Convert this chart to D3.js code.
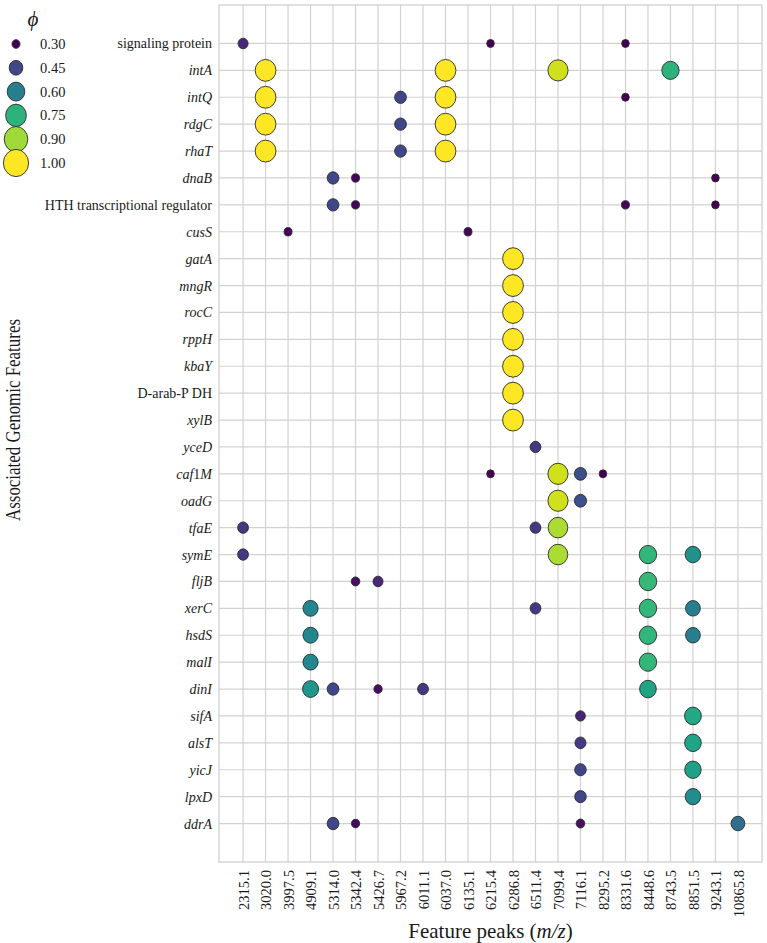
<!DOCTYPE html>
<html>
<head>
<meta charset="utf-8">
<script src="https://cdn.jsdelivr.net/npm/d3@7"></script>
<style>
  body { margin: 0; background: #fff; }
  svg text { font-family: "Liberation Serif", "Times New Roman", serif; fill: #1a1a1a; }
</style>
</head>
<body>
<div id="chart"></div>
<script>
const peaks = ['2315.1', '3020.0', '3997.5', '4909.1', '5314.0', '5342.4', '5426.7', '5967.2',
  '6011.1', '6037.0', '6135.1', '6215.4', '6286.8', '6511.4', '7099.4', '7116.1', '8295.2',
  '8331.6', '8448.6', '8743.5', '8851.5', '9243.1', '10865.8'];

const features = ['signaling protein', 'intA', 'intQ', 'rdgC', 'rhaT', 'dnaB',
  'HTH transcriptional regulator', 'cusS', 'gatA', 'mngR', 'rocC', 'rppH', 'kbaY',
  'D-arab-P DH', 'xylB', 'yceD', 'caf1M', 'oadG', 'tfaE', 'symE', 'fljB', 'xerC', 'hsdS',
  'malI', 'dinI', 'sifA', 'alsT', 'yicJ', 'lpxD', 'ddrA'];

// names that are not gene symbols (drawn upright)
const plainFeatures = ['signaling protein', 'HTH transcriptional regulator', 'D-arab-P DH'];

const legendPhi = [0.30, 0.45, 0.60, 0.75, 0.90, 1.00];

// [feature, peak, phi]
const points = [
  ['signaling protein', '2315.1', 0.38], ['signaling protein', '6215.4', 0.30], ['signaling protein', '8331.6', 0.30],
  ['intA', '3020.0', 1.00], ['intA', '6037.0', 1.00], ['intA', '7099.4', 0.95], ['intA', '8743.5', 0.75],
  ['intQ', '3020.0', 1.00], ['intQ', '5967.2', 0.45], ['intQ', '6037.0', 1.00], ['intQ', '8331.6', 0.30],
  ['rdgC', '3020.0', 1.00], ['rdgC', '5967.2', 0.45], ['rdgC', '6037.0', 1.00],
  ['rhaT', '3020.0', 1.00], ['rhaT', '5967.2', 0.45], ['rhaT', '6037.0', 1.00],
  ['dnaB', '5314.0', 0.45], ['dnaB', '5342.4', 0.31], ['dnaB', '9243.1', 0.30],
  ['HTH transcriptional regulator', '5314.0', 0.45], ['HTH transcriptional regulator', '5342.4', 0.31],
  ['HTH transcriptional regulator', '8331.6', 0.31], ['HTH transcriptional regulator', '9243.1', 0.30],
  ['cusS', '3997.5', 0.31], ['cusS', '6135.1', 0.31],
  ['gatA', '6286.8', 1.00], ['mngR', '6286.8', 1.00], ['rocC', '6286.8', 1.00], ['rppH', '6286.8', 1.00],
  ['kbaY', '6286.8', 1.00], ['D-arab-P DH', '6286.8', 1.00], ['xylB', '6286.8', 1.00],
  ['yceD', '6511.4', 0.41],
  ['caf1M', '6215.4', 0.30], ['caf1M', '7099.4', 0.95], ['caf1M', '7116.1', 0.47], ['caf1M', '8295.2', 0.30],
  ['oadG', '7099.4', 0.95], ['oadG', '7116.1', 0.47],
  ['tfaE', '2315.1', 0.41], ['tfaE', '6511.4', 0.41], ['tfaE', '7099.4', 0.91],
  ['symE', '2315.1', 0.41], ['symE', '7099.4', 0.91], ['symE', '8448.6', 0.76], ['symE', '8851.5', 0.65],
  ['fljB', '5342.4', 0.33], ['fljB', '5426.7', 0.38], ['fljB', '8448.6', 0.77],
  ['xerC', '4909.1', 0.62], ['xerC', '6511.4', 0.41], ['xerC', '8448.6', 0.76], ['xerC', '8851.5', 0.60],
  ['hsdS', '4909.1', 0.62], ['hsdS', '8448.6', 0.76], ['hsdS', '8851.5', 0.60],
  ['malI', '4909.1', 0.62], ['malI', '8448.6', 0.76],
  ['dinI', '4909.1', 0.67], ['dinI', '5314.0', 0.45], ['dinI', '5426.7', 0.32], ['dinI', '6011.1', 0.41], ['dinI', '8448.6', 0.71],
  ['sifA', '7116.1', 0.37], ['sifA', '8851.5', 0.72],
  ['alsT', '7116.1', 0.42], ['alsT', '8851.5', 0.71],
  ['yicJ', '7116.1', 0.44], ['yicJ', '8851.5', 0.70],
  ['lpxD', '7116.1', 0.44], ['lpxD', '8851.5', 0.64],
  ['ddrA', '5314.0', 0.45], ['ddrA', '5342.4', 0.32], ['ddrA', '7116.1', 0.33], ['ddrA', '10865.8', 0.55]
];

const d3Config = {
  viewportWidth: 767,
  viewportHeight: 943,
  plot: { left: 219, right: 762, top: 5, bottom: 862 },
  gridColor: '#d2d2d2',
  frameColor: '#cccccc',
  xAxisTitle: 'Feature peaks (',
  yAxisTitle: 'Associated Genomic Features'
};

const phiDomain = [0.30, 1.00];

// marker area grows linearly with phi
function radiusScale(rMin, rMax) {
  const area = d3.scaleLinear().domain(phiDomain).range([rMin * rMin, rMax * rMax]);
  return v => Math.sqrt(area(v));
}
const rPlot = radiusScale(3.8, 10.4);
const rLegend = radiusScale(4, 12.6);
const color = d3.scaleSequential(d3.interpolateViridis).domain(phiDomain);

const p = d3Config.plot;
const x = d3.scalePoint().domain(peaks).range([p.left, p.right]).padding(1.07);
const y = d3.scalePoint().domain(features).range([p.top, p.bottom]).padding(1.43);

const svg = d3.select('#chart')
  .append('svg')
  .attr('width', d3Config.viewportWidth)
  .attr('height', d3Config.viewportHeight);

// grid
svg.append('g')
  .selectAll('line')
  .data(peaks)
  .join('line')
  .attr('x1', d => x(d)).attr('x2', d => x(d))
  .attr('y1', p.top).attr('y2', p.bottom)
  .attr('stroke', d3Config.gridColor).attr('stroke-width', 1.2);

svg.append('g')
  .selectAll('line')
  .data(features)
  .join('line')
  .attr('x1', p.left).attr('x2', p.right)
  .attr('y1', d => y(d)).attr('y2', d => y(d))
  .attr('stroke', d3Config.gridColor).attr('stroke-width', 1.2);

svg.append('rect')
  .attr('x', p.left).attr('y', p.top)
  .attr('width', p.right - p.left).attr('height', p.bottom - p.top)
  .attr('fill', 'none').attr('stroke', d3Config.frameColor).attr('stroke-width', 1.2);

// points
svg.append('g')
  .selectAll('ellipse')
  .data(points)
  .join('ellipse')
  .attr('cx', d => x(d[1]))
  .attr('cy', d => y(d[0]))
  .attr('rx', d => rPlot(d[2]))
  .attr('ry', d => rPlot(d[2]) * 1.05)
  .attr('fill', d => color(d[2]))
  .attr('stroke', '#2b2b2b')
  .attr('stroke-width', 0.9);

// y axis labels, gene symbols in italics
const yAxis = svg.append('g')
  .attr('transform', `translate(${p.left},0)`)
  .call(d3.axisLeft(y).tickSize(0).tickPadding(7));
yAxis.select('.domain').remove();
yAxis.selectAll('text')
  .attr('font-size', 14)
  .each(function (d) {
    const t = d3.select(this).text('');
    if (plainFeatures.includes(d)) {
      t.text(d);
      return;
    }
    d.split(/(\d+)/).filter(s => s.length).forEach(part => {
      t.append('tspan')
        .attr('font-style', /^\d+$/.test(part) ? 'normal' : 'italic')
        .text(part);
    });
  });

// x axis labels
const xAxis = svg.append('g')
  .attr('transform', `translate(0,${p.bottom})`)
  .call(d3.axisBottom(x).tickSize(0));
xAxis.select('.domain').remove();
xAxis.selectAll('text')
  .attr('font-size', 14.5)
  .attr('transform', 'rotate(-90)')
  .attr('text-anchor', 'end')
  .attr('x', -8)
  .attr('y', 0)
  .attr('dy', '0.35em');

// X axis title
const xTitle = svg.append('text')
  .attr('text-anchor', 'middle')
  .attr('x', (p.left + p.right) / 2)
  .attr('y', 938)
  .attr('font-size', 21)
  .text(d3Config.xAxisTitle);
xTitle.append('tspan').attr('font-style', 'italic').text('m/z');
xTitle.append('tspan').text(')');

// Y axis title (narrow, as in the source figure)
svg.append('text')
  .attr('text-anchor', 'middle')
  .attr('transform', 'rotate(-90)')
  .attr('x', -420)
  .attr('y', 20)
  .attr('font-size', 21)
  .attr('textLength', 202)
  .attr('lengthAdjust', 'spacingAndGlyphs')
  .text(d3Config.yAxisTitle);

// legend
const legend = svg.append('g');
legend.append('text')
  .attr('x', 33).attr('y', 26)
  .attr('text-anchor', 'middle')
  .attr('font-size', 21)
  .attr('font-style', 'italic')
  .text('\u03D5');

const legendY = d3.scalePoint().domain(legendPhi).range([44, 163]);
const item = legend.selectAll('g.item')
  .data(legendPhi)
  .join('g')
  .attr('class', 'item')
  .attr('transform', d => `translate(16,${legendY(d)})`);
item.append('ellipse')
  .attr('rx', d => rLegend(d))
  .attr('ry', d => rLegend(d) * 1.08)
  .attr('fill', d => color(d))
  .attr('stroke', '#2b2b2b')
  .attr('stroke-width', 0.9);
item.append('text')
  .attr('x', 24)
  .attr('dy', '0.35em')
  .attr('font-size', 14.5)
  .text(d => d.toFixed(2));
</script>
</body>
</html>
